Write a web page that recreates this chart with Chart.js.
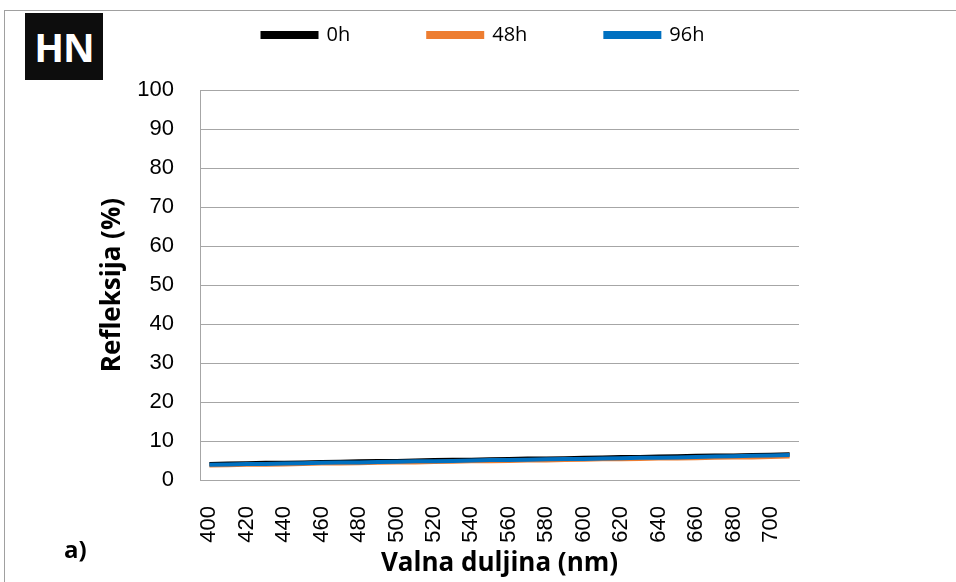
<!DOCTYPE html>
<html>
<head>
<meta charset="utf-8">
<script src="https://cdn.jsdelivr.net/npm/chart.js@4.4.0/dist/chart.umd.min.js"></script>
<style>
  html, body { margin: 0; padding: 0; background: #fff; }
  #wrap { position: relative; width: 956px; height: 582px; overflow: hidden; }
  #frame { position: absolute; left: 4px; top: 10px; width: 1000px; height: 700px; border: 1px solid #a0a0a0; }
  #hn {
    position: absolute; left: 25px; top: 13px; width: 78px; height: 67px;
    background: #0d0d0d; color: #fff; font: bold 39px "Open Sans", sans-serif;
    display: flex; align-items: center; justify-content: center; letter-spacing: -1px;
  }
  #tag { position: absolute; left: 64px; top: 532px; line-height: 1; font: bold 24px "Open Sans", sans-serif; color: #000; }
  canvas { position: absolute; left: 0; top: 0; }
</style>
</head>
<body>
<div id="wrap">
  <div id="frame"></div>
  <canvas id="c" width="956" height="582"></canvas>
  <div id="hn">HN</div>
  <div id="tag">a)</div>
</div>
<script>
// ── Data ──────────────────────────────────────────────
const wavelengths = [400, 410, 420, 430, 440, 450, 460, 470, 480, 490, 500, 510, 520, 530, 540, 550,
  560, 570, 580, 590, 600, 610, 620, 630, 640, 650, 660, 670, 680, 690, 700, 710];
const r0h = [4.1, 4.2, 4.3, 4.4, 4.4, 4.5, 4.6, 4.7, 4.8, 4.9, 4.9, 5.0, 5.1, 5.2, 5.2, 5.3,
  5.4, 5.5, 5.5, 5.6, 5.7, 5.8, 5.9, 5.9, 6.0, 6.1, 6.2, 6.3, 6.3, 6.4, 6.5, 6.6];
const r48h = [3.7, 3.8, 3.9, 3.9, 4.0, 4.1, 4.2, 4.2, 4.3, 4.4, 4.5, 4.5, 4.6, 4.7, 4.8, 4.8,
  4.9, 5.0, 5.0, 5.1, 5.2, 5.3, 5.3, 5.4, 5.5, 5.5, 5.6, 5.7, 5.8, 5.8, 5.9, 6.0];
const r96h = [3.9, 4.0, 4.1, 4.1, 4.2, 4.3, 4.4, 4.5, 4.5, 4.6, 4.7, 4.8, 4.8, 4.9, 5.0, 5.1,
  5.1, 5.2, 5.3, 5.4, 5.4, 5.5, 5.6, 5.7, 5.7, 5.8, 5.9, 6.0, 6.1, 6.2, 6.3, 6.4];
const seriesNames = ['0h', '48h', '96h'];
const yTicks = [0, 10, 20, 30, 40, 50, 60, 70, 80, 90, 100];

const colors = ['#000000', '#ED7D31', '#0070C0'];
const gridColor = '#a6a6a6';
const titleFont = { family: 'Open Sans', size: 26, weight: 'bold' };
const tickFont = { family: 'Liberation Sans', size: 22 };

const legendGap = 78;

// fix the legend box height so the plot starts at y=90, then move its drawing spot
const legendSpacer = {
  id: 'legendSpacer',
  beforeInit(chart) {
    const fit = chart.legend.fit;
    chart.legend.fit = function () {
      fit.bind(chart.legend)();
      this.height = 81;
    };
  },
  afterLayout(chart) {
    const lg = chart.legend;
    lg.left += 84;
    lg.right += 84;
    lg.top -= legendGap - 16; // bottom stays, legend area is clipped
  },
};

const mk = (label, data, color, order) => ({
  label, data,
  borderColor: color, backgroundColor: color,
  borderWidth: 4, pointRadius: 0, tension: 0, order,
});

new Chart(document.getElementById('c'), {
  type: 'line',
  data: {
    labels: wavelengths,
    datasets: [
      mk(seriesNames[0], r0h, colors[0], 3),
      mk(seriesNames[1], r48h, colors[1], 2),
      mk(seriesNames[2], r96h, colors[2], 1),
    ],
  },
  options: {
    responsive: false,
    animation: false,
    layout: { padding: { top: 9, right: 157, bottom: 0, left: 0 } },
    scales: {
      x: {
        offset: true,
        grid: { display: false },
        border: { color: gridColor },
        ticks: {
          autoSkip: false, maxRotation: 90, minRotation: 90, padding: 18,
          color: '#000', font: tickFont,
          callback: (v, i) => (i % 2 === 0 ? wavelengths[i] : ''),
        },
        title: { display: true, text: 'Valna duljina (nm)', color: '#000', font: titleFont, padding: { top: 0, bottom: 3 } },
        afterFit: (s) => { s.height = 102; },
      },
      y: {
        min: 0, max: 100,
        afterBuildTicks: (s) => { s.ticks = yTicks.map((v) => ({ value: v })); },
        grid: { color: gridColor, drawTicks: false },
        border: { color: gridColor },
        ticks: { padding: 26, color: '#000', font: tickFont },
        title: { display: true, text: 'Refleksija (%)', color: '#000', font: titleFont, padding: { top: 97, bottom: 0 } },
        afterFit: (s) => { s.width = 200; },
      },
    },
    plugins: {
      legend: {
        position: 'top',
        labels: {
          boxWidth: 54, boxHeight: 4, padding: legendGap,
          color: '#000', font: { family: 'Open Sans', size: 20 },
          sort: (a, b) => a.datasetIndex - b.datasetIndex,
        },
      },
      tooltip: { enabled: false },
    },
  },
  plugins: [legendSpacer],
});
</script>
</body>
</html>
